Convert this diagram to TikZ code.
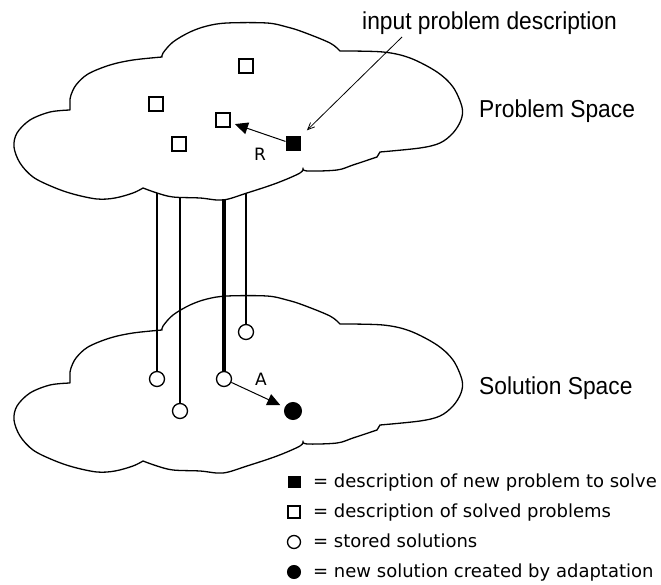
\documentclass[tikz,border=0pt]{standalone}
\usepackage{fontspec}
\setmainfont{Liberation Sans}
\newfontfamily\lblfont[FakeStretch=0.93]{Liberation Sans}
\newfontfamily\pixfont{DejaVu Sans}
\usetikzlibrary{arrows.meta}
\tikzset{
  cloudline/.style={line width=1.3pt, line join=round},
  osq/.style={draw, line width=1.3pt, minimum size=14pt, inner sep=0pt},
  fsq/.style={draw, fill=black, line width=1pt, minimum size=14pt, inner sep=0pt},
  ocirc/.style={circle, draw, line width=1.3pt, minimum size=15pt, inner sep=0pt},
  fcirc/.style={circle, draw, fill=black, line width=1pt, minimum size=17pt, inner sep=0pt},
  link/.style={line width=1.2pt},
  thicklink/.style={line width=4pt},
  relarrow/.style={line width=1pt, -{Triangle[length=13pt,width=12pt]}},
  inarrow/.style={line width=0.8pt, -{Straight Barb[length=7pt,width=6pt]}},
  biglabel/.style={anchor=base west, inner sep=0pt, font=\lblfont\fontsize{24.5}{28}\selectfont},
  pixlabel/.style={inner sep=0pt, font=\pixfont\fontsize{17}{20}\selectfont},
  legtext/.style={anchor=base west, inner sep=0pt, font=\pixfont\fontsize{18}{21}\selectfont},
  cloud/.pic={
    \draw[cloudline]
      plot[smooth, tension=0.55] coordinates {(70,110) (50,112) (30,120) (17,133) (14,147) (20,163) (33,177) (53,187) (73,194) (97,199) (115,198) (133,193) (143,188)}
      -- plot[smooth, tension=0.55] coordinates {(143,188) (157,193) (173,197) (200,198) (223,200) (247,193) (277,183) (300,173) (303,168)}
      -- plot[smooth, tension=0.55] coordinates {(303,168) (307,171) (337,170) (353,165) (377,157)}
      -- (380,152)
      -- plot[smooth, tension=0.55] coordinates {(380,152) (420,148) (440,143) (453,133) (461,120) (462,107) (453,87) (437,72) (410,58) (383,52) (340,51)}
      -- plot[smooth, tension=0.55] coordinates {(340,51) (330,43) (303,32) (287,27) (267,23) (227,23) (207,26) (190,32) (173,42) (163,53) (162,57)}
      -- plot[smooth, tension=0.55] coordinates {(162,57) (133,60) (110,65) (88,74) (76,85) (71,95) (70,100)}
      -- cycle;
  }
}
\begin{document}
\begin{tikzpicture}[x=1pt,y=-1pt]
\useasboundingbox (0,0) rectangle (661,585);

% clouds
\pic at (0,0) {cloud};
\pic at (0,273) {cloud};

% problem space
\node[osq] (p1) at (246,66) {};
\node[osq] (p2) at (156,104) {};
\node[osq] (p3) at (223,120) {};
\node[osq] (p4) at (179,144) {};
\node[fsq] (pn) at (293,144) {};

% solution space
\node[ocirc] (s4) at (246,332) {};
\node[ocirc] (s1) at (157,379) {};
\node[ocirc] (s3) at (224,379) {};
\node[ocirc] (s2) at (180,411) {};
\node[fcirc] (sn) at (293,411) {};

% links from problems to solutions
\coordinate (t1) at (157,193);
\coordinate (t2) at (180,197);
\coordinate (t3) at (224,199);
\coordinate (t4) at (246,193);
\draw[link] (t1) -- (s1);
\draw[link] (t2) -- (s2);
\draw[thicklink] (t3) -- (s3);
\draw[link] (t4) -- (s4);

% arrows
\draw[relarrow, shorten >=4.5pt] (pn) -- (p3);
\node[pixlabel] (rl) at (260,154) {R};
\draw[relarrow, shorten >=5pt] (s3) -- (sn);
\node[pixlabel] (al) at (261,379) {A};

% labels
\node[biglabel] (inp) at (362,30) {input problem description};
\coordinate (ia) at (402,37);
\draw[inarrow, shorten >=9pt] (ia) -- (pn);
\node[biglabel] (ps) at (479,118) {Problem Space};
\node[biglabel] (ss) at (479,394) {Solution Space};

% legend
\node[fsq, minimum width=12pt, minimum height=11pt] (l1) at (294,482) {};
\node[osq, minimum size=12pt] (l2) at (294,512) {};
\node[ocirc, minimum size=13pt] (l3) at (294,542) {};
\node[fcirc, minimum size=13pt] (l4) at (294,572) {};
\node[legtext] (lt1) at (313,487) {= description of new problem to solve};
\node[legtext] (lt2) at (313,517) {= description of solved problems};
\node[legtext] (lt3) at (313,547) {= stored solutions};
\node[legtext] (lt4) at (313,577) {= new solution created by adaptation};
\end{tikzpicture}
\end{document}
